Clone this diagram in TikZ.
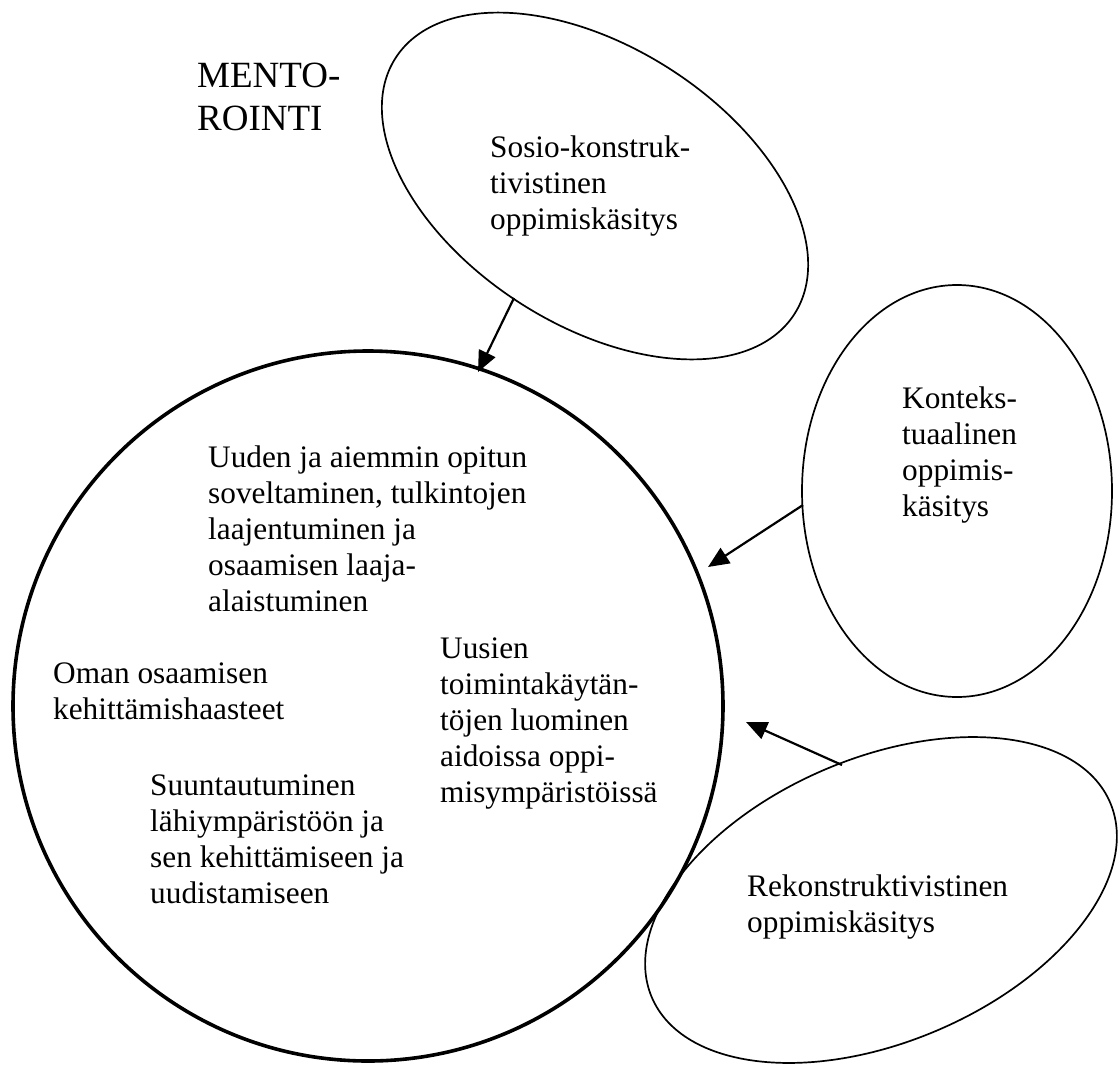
\documentclass[tikz,border=0pt]{standalone}
\usepackage{fontspec}
\setmainfont{Liberation Serif}
\usetikzlibrary{arrows.meta,shapes.geometric}
% left-aligned block whose baseline is the baseline of its first line
\newcommand{\blk}[1]{\begin{tabular}[t]{@{}l@{}}#1\end{tabular}}
\begin{document}
\begin{tikzpicture}[x=1pt,y=1pt,
  txt/.style={anchor=base west, inner sep=0pt, font=\fontsize{31.3}{36.2}\selectfont},
  bigtxt/.style={anchor=base west, inner sep=0pt, font=\fontsize{37}{43}\selectfont},
  bubble/.style={draw, ellipse, line width=1.7pt, inner sep=0pt},
  link/.style={line width=2.2pt, -{Triangle[length=21pt,width=18pt]}}]
\useasboundingbox (0,0) rectangle (1119,-1066);

% central circle
\node[draw, circle, line width=3.6pt, minimum size=710pt, inner sep=0pt] (core) at (368,-706) {};

% surrounding conceptions of learning
\node[bubble, minimum width=474pt, minimum height=278pt, rotate=-32.7] (sosio) at (595,-186) {};
\node[bubble, minimum width=310pt, minimum height=412pt] (konteksti) at (957,-491) {};
\node[bubble, minimum width=498pt, minimum height=284pt, rotate=23] (rekon) at (881,-900) {};

% texts
\node[bigtxt] (mento) at (197,-87) {\blk{MENTO-\\ROINTI}};
\node[txt] (tsosio) at (490,-157) {\blk{Sosio-konstruk-\\tivistinen\\oppimiskäsitys}};
\node[txt] (tkonteksti) at (902,-408) {\blk{Konteks-\\tuaalinen\\oppimis-\\käsitys}};
\node[txt] (trekon) at (747,-896) {\blk{Rekonstruktivistinen\\oppimiskäsitys}};
\node[txt] (tuuden) at (208,-467) {\blk{Uuden ja aiemmin opitun\\soveltaminen, tulkintojen\\laajentuminen ja\\osaamisen laaja-\\alaistuminen}};
\node[txt] (toman) at (53,-683) {\blk{Oman osaamisen\\kehittämishaasteet}};
\node[txt] (tuusien) at (440,-658) {\blk{Uusien\\toimintakäytän-\\töjen luominen\\aidoissa oppi-\\misympäristöissä}};
\node[txt] (tsuunta) at (150,-795) {\blk{Suuntautuminen\\lähiympäristöön ja\\sen kehittämiseen ja\\uudistamiseen}};

% arrow end points
\coordinate (s1) at (514,-298);
\coordinate (e1) at (478,-372);
\coordinate (s2) at (803,-505);
\coordinate (e2) at (708,-567);
\coordinate (s3) at (842,-765);
\coordinate (e3) at (746,-722);

\draw[link] (s1) -- (e1);
\draw[link] (s2) -- (e2);
\draw[link] (s3) -- (e3);
\end{tikzpicture}
\end{document}
